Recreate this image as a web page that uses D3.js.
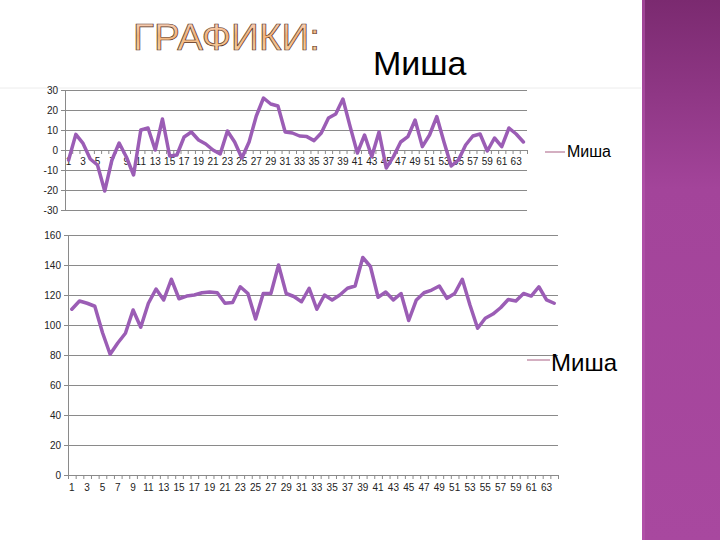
<!DOCTYPE html>
<html>
<head>
<meta charset="utf-8">
<script src="https://cdn.jsdelivr.net/npm/d3@7"></script>
<style>
  html, body { margin: 0; padding: 0; background: #ffffff; }
  svg { display: block; }
  text { font-family: "Liberation Sans", Arial, sans-serif; }
</style>
</head>
<body>
<svg id="chart" width="720" height="540"></svg>
<script>
// ---------- DATA ----------
const categories = d3.range(1, 65);               // 1 .. 64
const tickLabels = categories.filter(d => d % 2 === 1); // 1,3,...,63
const seriesName = "Миша";
const titleText = "ГРАФИКИ:";

// top chart (differences)
const topValues = [
  -5, 7.8, 3.3, -4.5, -7.5, -20.5, -5, 3.5, -3.5, -12.5,
  10, 11, 0, 15.5, -3, -2.5, 6.5, 9, 5, 3,
  0, -2, 9.5, 4, -4, 4, 17, 26, 23, 22,
  9, 8.5, 7, 6.7, 4.7, 8.5, 16, 18, 25.5, 11.7,
  -1.5, 7.5, -3.3, 9, -9, -3.3, 4, 6.7, 15, 1.7,
  7.5, 16.7, 4, -8, -5, 2.5, 7, 8, -0.5, 6,
  1.7, 11, 8, 4
];
const topTicks = [-30, -20, -10, 0, 10, 20, 30];

// bottom chart (levels)
const bottomValues = [
  110.5, 116, 114.5, 112.5, 95, 80.5, 88, 94.5, 110, 98.5,
  114.5, 124, 116.7, 130.5, 117.5, 119.3, 120, 121.5, 122, 121.5,
  114.5, 115, 125.5, 121, 104, 121, 121, 140, 121, 119,
  115.5, 124.5, 110.5, 120, 116.7, 120, 124.5, 126, 145, 139,
  118.5, 122, 116.7, 121, 103, 116.7, 121.5, 123.3, 126, 117.8,
  121, 130.5, 113.3, 97.8, 104.5, 107.3, 111.5, 117, 116, 121,
  119.3, 125.5, 116.7, 114.5
];
const bottomTicks = [0, 20, 40, 60, 80, 100, 120, 140, 160];

// ---------- STYLE ----------
const lineColor = "#9b5db5";
const gridColor = "#8a8a8a";
const legendLineColor = "#b77a98";

const svg = d3.select("#chart");
const defs = svg.append("defs");

// right purple band
const bandGrad = defs.append("linearGradient").attr("id", "bandGrad")
  .attr("x1", 0).attr("y1", 0).attr("x2", 0).attr("y2", 1);
bandGrad.append("stop").attr("offset", "0%").attr("stop-color", "#7b2a70");
bandGrad.append("stop").attr("offset", "35%").attr("stop-color", "#a3449a");
bandGrad.append("stop").attr("offset", "100%").attr("stop-color", "#a8489f");
svg.append("rect").attr("x", 642).attr("y", 0).attr("width", 78).attr("height", 540)
  .attr("fill", "url(#bandGrad)");
svg.append("rect").attr("x", 642).attr("y", 0).attr("width", 3).attr("height", 540)
  .attr("fill", "#b655ad").attr("opacity", 0.6);

// title gradient
const titleGrad = defs.append("linearGradient").attr("id", "titleGrad")
  .attr("x1", 0).attr("y1", 0).attr("x2", 0).attr("y2", 1);
titleGrad.append("stop").attr("offset", "0%").attr("stop-color", "#f8dcd6");
titleGrad.append("stop").attr("offset", "45%").attr("stop-color", "#f3b47a");
titleGrad.append("stop").attr("offset", "100%").attr("stop-color", "#f8dab0");

svg.append("text").attr("x", 133).attr("y", 50)
  .attr("font-size", 37).attr("textLength", 187).attr("lengthAdjust", "spacingAndGlyphs")
  .attr("fill", "url(#titleGrad)").attr("stroke", "#5a3424").attr("stroke-width", 0.7)
  .text(titleText);

svg.append("text").attr("x", 373).attr("y", 75)
  .attr("font-size", 34).attr("fill", "#000")
  .text(seriesName);

svg.append("line").attr("x1", 0).attr("x2", 641).attr("y1", 88).attr("y2", 88)
  .attr("stroke", "#ececec").attr("stroke-width", 1);

const fmt = d => String(d); // plain hyphen-minus, as in the reference

// ---------- helper to draw a chart ----------
function drawChart(opts) {
  const { x0, x1, yTop, yBottom, domain, ticks, values, axisAt, legend } = opts;
  const g = svg.append("g");

  const x = d3.scaleBand().domain(categories).range([x0, x1]).padding(0);
  const xb = d3.scaleLinear().domain([0, categories.length]).range([x0, x1]);
  const y = d3.scaleLinear().domain(domain).range([yBottom, yTop]);

  // gridlines
  const grid = g.append("g").attr("transform", `translate(${x0},0)`)
    .call(d3.axisLeft(y).tickValues(ticks).tickSize(-(x1 - x0)).tickFormat(""));
  grid.select(".domain").remove();
  grid.selectAll("line").attr("stroke", gridColor).attr("stroke-width", 1);

  // y axis
  const ya = g.append("g").attr("transform", `translate(${x0},0)`)
    .call(d3.axisLeft(y).tickValues(ticks).tickSize(4).tickPadding(3).tickFormat(fmt));
  ya.select(".domain").attr("stroke", gridColor);
  ya.selectAll(".tick line").attr("stroke", gridColor);
  ya.selectAll("text").attr("font-size", 10).attr("fill", "#222")
    .attr("font-family", "Liberation Sans, Arial, sans-serif");

  // category axis: boundary ticks
  const ay = y(axisAt);
  const xt = g.append("g").attr("transform", `translate(0,${ay})`)
    .call(d3.axisBottom(xb).tickValues(d3.range(0, categories.length + 1)).tickSize(4).tickFormat(""));
  xt.select(".domain").attr("stroke", gridColor);
  xt.selectAll(".tick line").attr("stroke", gridColor);

  // category labels
  const xl = g.append("g").attr("transform", `translate(0,${ay})`)
    .call(d3.axisBottom(x).tickValues(tickLabels).tickSize(0).tickPadding(opts.labelPad));
  xl.select(".domain").remove();
  xl.selectAll("text").attr("font-size", 10).attr("fill", "#222")
    .attr("font-family", "Liberation Sans, Arial, sans-serif");

  // series line
  const line = d3.line()
    .x((d, i) => x(categories[i]) + x.bandwidth() / 2)
    .y(d => y(d));
  g.append("path").datum(values)
    .attr("d", line).attr("fill", "none")
    .attr("stroke", lineColor).attr("stroke-width", 3.5)
    .attr("stroke-linejoin", "round").attr("stroke-linecap", "round");

  // legend
  g.append("line").attr("x1", legend.lx1).attr("x2", legend.lx2)
    .attr("y1", legend.ly).attr("y2", legend.ly)
    .attr("stroke", legendLineColor).attr("stroke-width", 1.2);
  g.append("text").attr("x", legend.tx).attr("y", legend.ty)
    .attr("font-size", legend.size).attr("fill", "#000").text(seriesName);
}

drawChart({
  x0: 65, x1: 527, yTop: 90, yBottom: 210,
  domain: [-30, 30], ticks: topTicks, values: topValues, axisAt: 0, labelPad: 8,
  legend: { lx1: 545, lx2: 565, ly: 152, tx: 567, ty: 157, size: 16 }
});

drawChart({
  x0: 68, x1: 558, yTop: 235, yBottom: 475,
  domain: [0, 160], ticks: bottomTicks, values: bottomValues, axisAt: 0, labelPad: 9,
  legend: { lx1: 527, lx2: 550, ly: 360, tx: 551, ty: 371, size: 24 }
});
</script>
</body>
</html>
